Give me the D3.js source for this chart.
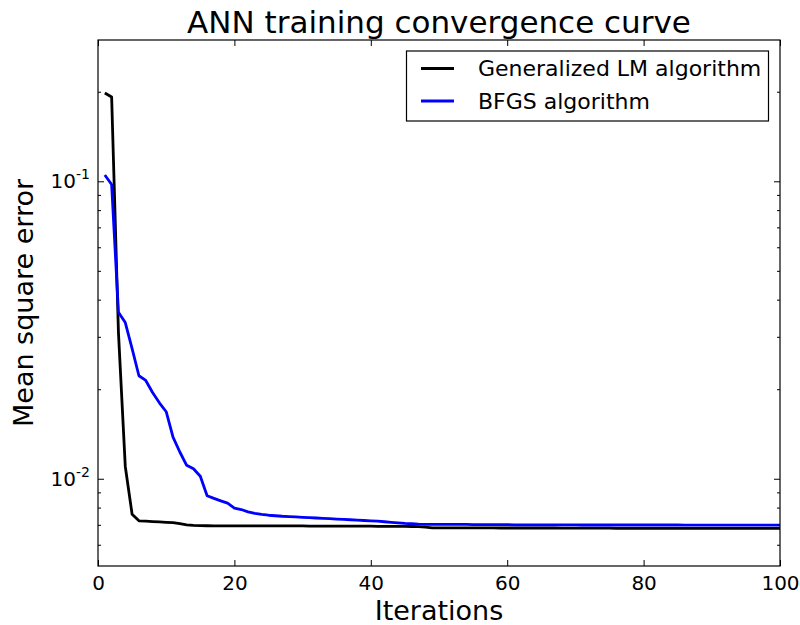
<!DOCTYPE html>
<html>
<head>
<meta charset="utf-8">
<script src="https://cdn.jsdelivr.net/npm/d3@7"></script>
<style>
  html, body { margin: 0; padding: 0; background: #fff; }
  svg { display: block; font-family: "DejaVu Sans", sans-serif; }
</style>
</head>
<body>
<svg id="chart" width="800" height="625"></svg>
<script>
// ---- data ----
const iterations = d3.range(1, 101);
const seriesNames = ["Generalized LM algorithm", "BFGS algorithm"];
const seriesColors = ["#000000", "#0000ff"];
const lmValues = [
  0.198, 0.192, 0.031, 0.0110, 0.0076, 0.00722, 0.00720, 0.00718, 0.00716, 0.00714,
  0.00712, 0.00706, 0.00700, 0.00697, 0.00696, 0.00695, 0.00694, 0.00694, 0.00694, 0.00694,
  0.00694, 0.00694, 0.00694, 0.00694, 0.00694, 0.00694, 0.00694, 0.00694, 0.00694, 0.00694,
  0.00693, 0.00693, 0.00693, 0.00693, 0.00693, 0.00693, 0.00693, 0.00693, 0.00693, 0.00693,
  0.00692, 0.00692, 0.00692, 0.00692, 0.00692, 0.00691, 0.00690, 0.00688, 0.00684, 0.00684,
  0.00684, 0.00684, 0.00684, 0.00684, 0.00684, 0.00684, 0.00684, 0.00684, 0.00683, 0.00683,
  0.00683, 0.00683, 0.00683, 0.00683, 0.00683, 0.00683, 0.00683, 0.00682, 0.00682, 0.00682,
  0.00682, 0.00682, 0.00682, 0.00682, 0.00682, 0.00681, 0.00681, 0.00681, 0.00681, 0.00681,
  0.00681, 0.00681, 0.00681, 0.00681, 0.00681, 0.00681, 0.00681, 0.00681, 0.00681, 0.00681,
  0.00681, 0.00681, 0.00681, 0.00681, 0.00681, 0.00681, 0.00681, 0.00681, 0.00681, 0.00681
];
const bfgsValues = [
  0.105, 0.0975, 0.0363, 0.0335, 0.0274, 0.0222, 0.0214, 0.0195, 0.0180, 0.0168,
  0.0138, 0.0123, 0.0111, 0.0108, 0.0102, 0.00877, 0.00859, 0.00843, 0.00828, 0.00797,
  0.00788, 0.00774, 0.00765, 0.00759, 0.00754, 0.00751, 0.00748, 0.00746, 0.00744, 0.00742,
  0.00740, 0.00738, 0.00736, 0.00734, 0.00732, 0.00730, 0.00728, 0.00726, 0.00724, 0.00722,
  0.00720, 0.00717, 0.00714, 0.00711, 0.00708, 0.00706, 0.00704, 0.00703, 0.00703, 0.00702,
  0.00702, 0.00702, 0.00702, 0.00702, 0.00701, 0.00701, 0.00701, 0.00701, 0.00701, 0.00701,
  0.00700, 0.00700, 0.00700, 0.00700, 0.00700, 0.00700, 0.00700, 0.00700, 0.00700, 0.00700,
  0.00699, 0.00699, 0.00699, 0.00699, 0.00699, 0.00699, 0.00699, 0.00699, 0.00699, 0.00699,
  0.00699, 0.00699, 0.00699, 0.00699, 0.00699, 0.00698, 0.00698, 0.00698, 0.00698, 0.00698,
  0.00698, 0.00698, 0.00698, 0.00698, 0.00698, 0.00698, 0.00698, 0.00698, 0.00698, 0.00698
];
const xTicks = [0, 20, 40, 60, 80, 100];
const yMajorTicks = [0.1, 0.01];
const yMajorExponents = ["-1", "-2"];
const yMinorTicks = [0.006, 0.007, 0.008, 0.009, 0.02, 0.03, 0.04, 0.05, 0.06, 0.07, 0.08, 0.09, 0.2, 0.3];
const titleText = "ANN training convergence curve";
const xLabelText = "Iterations";
const yLabelText = "Mean square error";

// ---- layout ----
const L = 98, R = 780, T = 40, B = 566;
const svg = d3.select("#chart");
const x = d3.scaleLinear().domain([0, 100]).range([L, R]);
const y = d3.scaleLog().domain([0.00509, 0.2985]).range([B, T]);

const clipId = "plotclip";
svg.append("defs").append("clipPath").attr("id", clipId)
  .append("rect").attr("x", L).attr("y", T).attr("width", R - L).attr("height", B - T);

const line = d3.line().x((d, i) => x(iterations[i])).y(d => y(d));
const series = [lmValues, bfgsValues];
series.forEach((vals, k) => {
  svg.append("path").datum(vals)
    .attr("clip-path", `url(#${clipId})`)
    .attr("fill", "none").attr("stroke", seriesColors[k])
    .attr("stroke-width", 2.8).attr("stroke-linejoin", "round")
    .attr("d", line);
});

// ---- axes (ticks inward on all sides) ----
const majorLen = 6, minorLen = 3;
const minorIn = yMinorTicks.filter(v => v >= 0.00509 && v <= 0.2985);
const xAxisB = d3.axisBottom(x).tickValues(xTicks).tickSize(-majorLen).tickPadding(10).tickFormat(d3.format("d"));
const xAxisT = d3.axisTop(x).tickValues(xTicks).tickSize(-majorLen).tickFormat("");
const yAxisL = d3.axisLeft(y).tickValues(yMajorTicks).tickSize(-majorLen).tickFormat("");
const yAxisR = d3.axisRight(y).tickValues(yMajorTicks).tickSize(-majorLen).tickFormat("");
const yMinL = d3.axisLeft(y).tickValues(minorIn).tickSize(-minorLen).tickFormat("");
const yMinR = d3.axisRight(y).tickValues(minorIn).tickSize(-minorLen).tickFormat("");

function styleAxis(g) {
  g.select(".domain").remove();
  g.selectAll(".tick line").attr("stroke", "#000").attr("stroke-width", 1);
  g.selectAll("text").attr("font-family", "DejaVu Sans").attr("font-size", 20).attr("fill", "#000");
}
svg.append("g").attr("transform", `translate(0,${B})`).call(xAxisB).call(styleAxis);
svg.append("g").attr("transform", `translate(0,${T})`).call(xAxisT).call(styleAxis);
svg.append("g").attr("transform", `translate(${L},0)`).call(yAxisL).call(styleAxis);
svg.append("g").attr("transform", `translate(${R},0)`).call(yAxisR).call(styleAxis);
svg.append("g").attr("transform", `translate(${L},0)`).call(yMinL).call(styleAxis);
svg.append("g").attr("transform", `translate(${R},0)`).call(yMinR).call(styleAxis);

// y tick labels 10^k
yMajorTicks.forEach((v, i) => {
  const t = svg.append("text")
    .attr("x", L - 8).attr("y", y(v) + 7)
    .attr("text-anchor", "end")
    .attr("font-size", 20).attr("fill", "#000");
  t.append("tspan").text("10");
  t.append("tspan").attr("dy", -9).attr("font-size", 14).text(yMajorExponents[i]);
});

// frame
svg.append("rect").attr("x", L).attr("y", T).attr("width", R - L).attr("height", B - T)
  .attr("fill", "none").attr("stroke", "#000").attr("stroke-width", 1.2);

// titles
svg.append("text").attr("x", (L + R) / 2).attr("y", 33).attr("text-anchor", "middle")
  .attr("font-size", 31).attr("fill", "#000").text(titleText);
svg.append("text").attr("x", (L + R) / 2).attr("y", 620).attr("text-anchor", "middle")
  .attr("font-size", 27).attr("fill", "#000").text(xLabelText);
svg.append("text").attr("transform", `translate(33,${(T + B) / 2}) rotate(-90)`)
  .attr("text-anchor", "middle").attr("font-size", 27).attr("fill", "#000").text(yLabelText);

// legend
const lg = svg.append("g");
lg.append("rect").attr("x", 406.5).attr("y", 51).attr("width", 362).attr("height", 70)
  .attr("fill", "#fff").attr("stroke", "#000").attr("stroke-width", 1.2);
seriesNames.forEach((name, i) => {
  const yy = 68.5 + i * 32.5;
  lg.append("line").attr("x1", 421).attr("x2", 454).attr("y1", yy).attr("y2", yy)
    .attr("stroke", seriesColors[i]).attr("stroke-width", 2.8);
  lg.append("text").attr("x", 478).attr("y", yy + 7.5).attr("font-size", 22)
    .attr("fill", "#000").text(name);
});
</script>
</body>
</html>
